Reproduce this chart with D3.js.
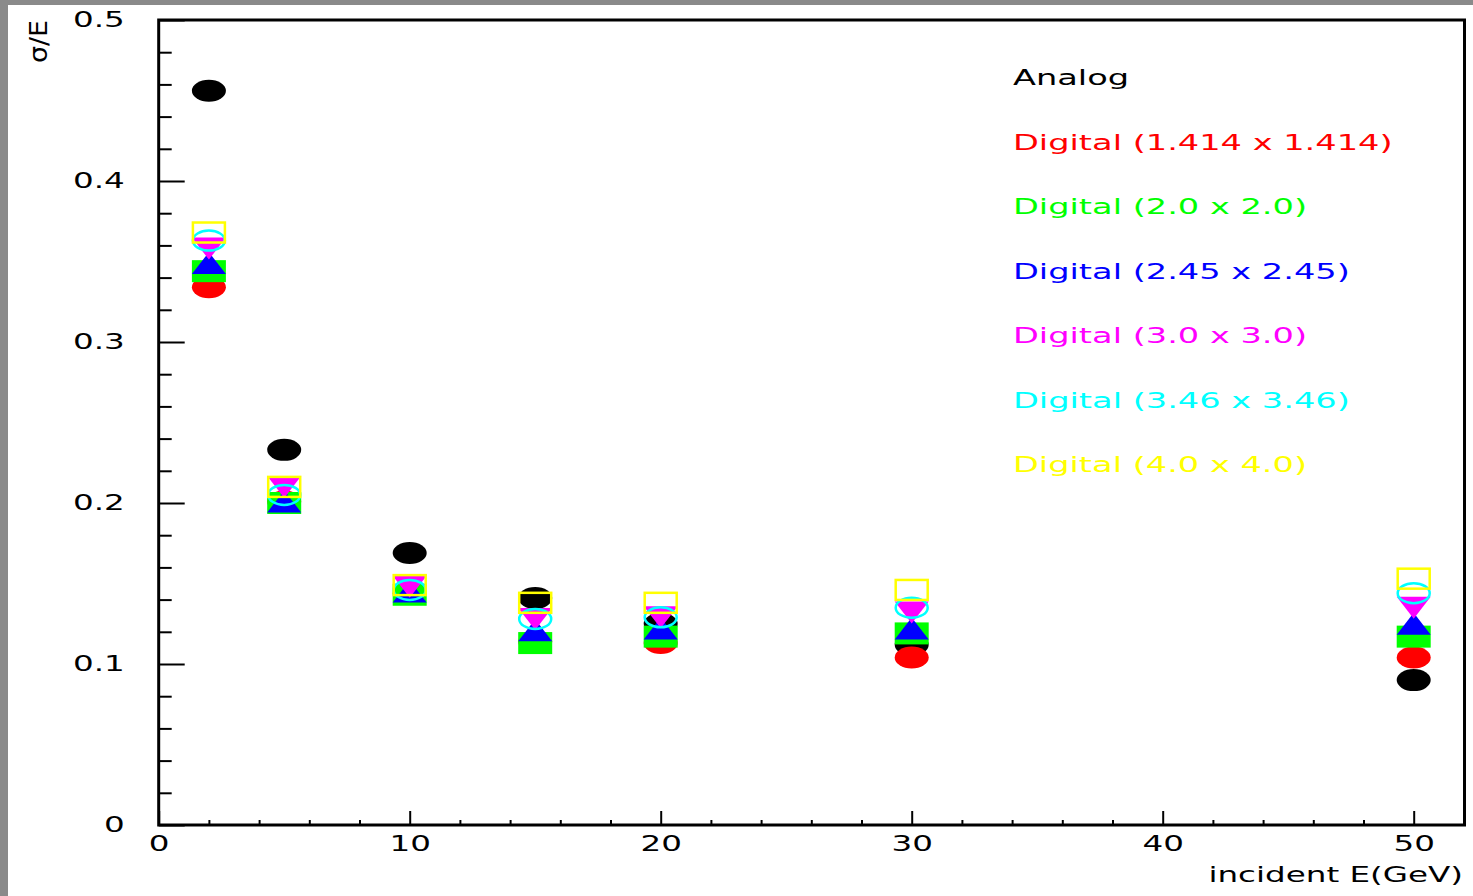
<!DOCTYPE html>
<html><head><meta charset="utf-8">
<script src="https://cdn.jsdelivr.net/npm/d3@7/dist/d3.min.js"></script>
<style>
html,body{margin:0;padding:0;background:#fff;}
svg{display:block;}
text{font-family:"DejaVu Sans",sans-serif;}
</style></head>
<body>
<svg id="chart" width="1473" height="896"></svg>
<script>
// ---- data ----
const energies = [2, 5, 10, 15, 20, 30, 50];
const analog     = [0.456, 0.233, 0.169, 0.141, 0.125, 0.112, 0.090];
const dig1414    = [0.334, 0.201, 0.144, 0.114, 0.113, 0.104, 0.104];
const dig20      = [0.344, 0.200, 0.143, 0.113, 0.117, 0.119, 0.117];
const dig245     = [0.349, 0.201, 0.145, 0.121, 0.122, 0.122, 0.125];
const dig30      = [0.358, 0.210, 0.148, 0.128, 0.129, 0.132, 0.135];
const dig346     = [0.363, 0.205, 0.146, 0.128, 0.129, 0.135, 0.144];
const dig40      = [0.368, 0.210, 0.149, 0.138, 0.138, 0.146, 0.153];
const seriesNames = ["Analog", "Digital (1.414 x 1.414)", "Digital (2.0 x 2.0)",
  "Digital (2.45 x 2.45)", "Digital (3.0 x 3.0)", "Digital (3.46 x 3.46)", "Digital (4.0 x 4.0)"];
const seriesValues = [analog, dig1414, dig20, dig245, dig30, dig346, dig40];
const seriesColors = ["#000000", "#ff0000", "#00ff00", "#0000ff", "#ff00ff", "#00ffff", "#ffff00"];
const seriesMarkers = ["circle", "circle", "square", "triUp", "triDown", "openCircle", "openSquare"];
const xMajorTicks = [0, 10, 20, 30, 40, 50];
const xMinorTicks = [2, 4, 6, 8, 12, 14, 16, 18, 22, 24, 26, 28, 32, 34, 36, 38, 42, 44, 46, 48, 52];
const yMajorTicks = [0, 0.1, 0.2, 0.3, 0.4, 0.5];
const yMinorTicks = [0.02,0.04,0.06,0.08,0.12,0.14,0.16,0.18,0.22,0.24,0.26,0.28,0.32,0.34,0.36,0.38,0.42,0.44,0.46,0.48];
const xTitle = "incident E(GeV)";
const yTitle = "σ/E";

// ---- layout ----
const svg = d3.select("#chart");
const L = 158.7, R = 1464.5, T = 20, B = 825;
const x = d3.scaleLinear().domain([0, 52]).range([L, L + 52 * 25.1]);
const y = d3.scaleLinear().domain([0, 0.5]).range([B, T]);
const STRETCH = 1.55;

function stretch(sel, f) {
  sel.each(function () {
    const len = this.getComputedTextLength();
    d3.select(this).attr("textLength", len * f).attr("lengthAdjust", "spacingAndGlyphs");
  });
}

// background frame (gray edge)
svg.append("rect").attr("x", 0).attr("y", 0).attr("width", 1473).attr("height", 896).attr("fill", "#ffffff");
svg.append("rect").attr("x", 0).attr("y", 0).attr("width", 1473).attr("height", 5).attr("fill", "#8a8a8a");
svg.append("rect").attr("x", 0).attr("y", 0).attr("width", 8).attr("height", 896).attr("fill", "#8a8a8a");

// axes
const gx = svg.append("g").attr("transform", `translate(0,${B})`);
gx.call(d3.axisBottom(x).tickValues(xMinorTicks).tickSize(-5).tickFormat(""));
const gxM = svg.append("g").attr("transform", `translate(0,${B})`);
gxM.call(d3.axisBottom(x).tickValues(xMajorTicks).tickSize(-14).tickFormat(d3.format("d")));
const gy = svg.append("g").attr("transform", `translate(${L},0)`);
gy.call(d3.axisLeft(y).tickValues(yMinorTicks).tickSize(-13).tickFormat(""));
const gyM = svg.append("g").attr("transform", `translate(${L},0)`);
gyM.call(d3.axisLeft(y).tickValues(yMajorTicks).tickSize(-26).tickFormat(d => d === 0 ? "0" : d3.format(".1f")(d)));

svg.selectAll(".domain").remove();
svg.selectAll(".tick line").attr("stroke", "#000").attr("stroke-width", 2);

gxM.selectAll(".tick text").attr("y", 26).attr("dy", 0).attr("font-size", 21).attr("fill", "#000")
  .call(stretch, STRETCH);
gyM.selectAll(".tick text").attr("x", -34).attr("dy", 6.5).attr("font-size", 21).attr("fill", "#000")
  .attr("text-anchor", "end").call(stretch, STRETCH);

// frame
svg.append("rect").attr("x", L).attr("y", T).attr("width", R - L).attr("height", B - T)
  .attr("fill", "none").attr("stroke", "#000").attr("stroke-width", 3);

// markers
const RX = 17, RY = 11;
function drawMarker(g, type, color) {
  if (type === "circle") {
    g.append("ellipse").attr("rx", RX).attr("ry", RY).attr("fill", color);
  } else if (type === "square") {
    g.append("rect").attr("x", -RX).attr("y", -RY).attr("width", 2 * RX).attr("height", 2 * RY).attr("fill", color);
  } else if (type === "triUp") {
    g.append("path").attr("d", `M${-RX},${RY}L${RX},${RY}L0,${-RY}Z`).attr("fill", color);
  } else if (type === "triDown") {
    g.append("path").attr("d", `M${-RX},${-RY}L${RX},${-RY}L0,${RY}Z`).attr("fill", color);
  } else if (type === "openCircle") {
    g.append("ellipse").attr("rx", RX - 1).attr("ry", RY - 1).attr("fill", "none").attr("stroke", color).attr("stroke-width", 2.5);
  } else if (type === "openSquare") {
    g.append("rect").attr("x", -RX + 1).attr("y", -RY + 1).attr("width", 2 * RX - 2).attr("height", 2 * RY - 2)
      .attr("fill", "none").attr("stroke", color).attr("stroke-width", 2.5);
  }
}
const marks = svg.append("g");
seriesValues.forEach((vals, si) => {
  vals.forEach((v, i) => {
    const g = marks.append("g").attr("transform", `translate(${x(energies[i])},${y(v)})`);
    drawMarker(g, seriesMarkers[si], seriesColors[si]);
  });
});

// legend
const leg = svg.append("g");
seriesNames.forEach((name, i) => {
  leg.append("text").attr("x", 1013).attr("y", 85 + i * 64.5).attr("font-size", 21)
    .attr("fill", seriesColors[i]).text(name).call(stretch, 1.6);
});

// titles
svg.append("text").attr("x", 1463).attr("y", 882).attr("text-anchor", "end").attr("font-size", 21)
  .attr("fill", "#000").text(xTitle).call(stretch, 1.55);
svg.append("g").attr("transform", `translate(47,63) scale(1.55,1) rotate(-90)`)
  .append("text").attr("x", 0).attr("y", 0).attr("font-size", 16).attr("fill", "#000")
  .attr("textLength", 43).attr("lengthAdjust", "spacingAndGlyphs").text(yTitle);
</script>
</body></html>
